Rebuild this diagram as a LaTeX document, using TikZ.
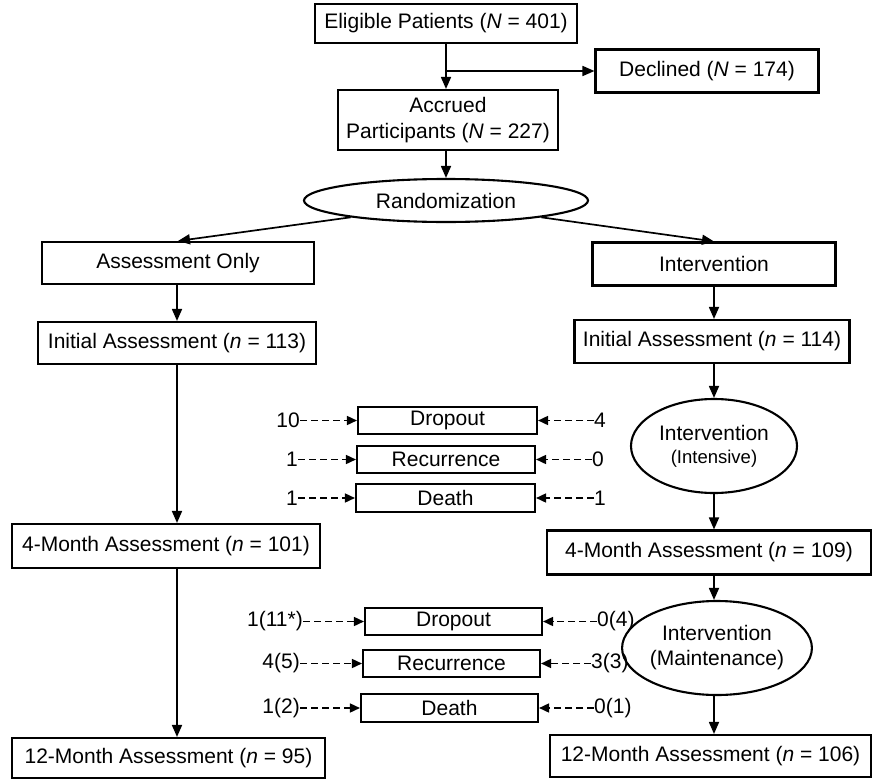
\documentclass[tikz,border=0pt]{standalone}
\usepackage{fontspec}
\setmainfont{Liberation Sans}
\usetikzlibrary{arrows.meta,shapes.geometric}
\begin{document}
\begin{tikzpicture}[x=1pt,y=-1pt,
  box/.style={draw,line width=2.1pt,inner sep=0pt,align=center,font=\fontsize{21}{26}\selectfont},
  oval/.style={draw,ellipse,line width=2.1pt,inner sep=0pt,align=center,font=\fontsize{21}{25}\selectfont},
  arr/.style={line width=1.7pt,-{Triangle[length=12pt,width=10pt]}},
  darr/.style={line width=1.6pt,dash pattern=on 7pt off 4pt,-{Triangle[length=10pt,width=9pt]}},
  lbl/.style={inner sep=0pt,font=\fontsize{21}{25}\selectfont}]
\useasboundingbox (0,0) rectangle (873,779);

% top
\node[box,minimum width=262pt,minimum height=39pt] (elig) at (446,23.5) {Eligible Patients (\textit{N} = 401)};
\node[box,minimum width=223pt,minimum height=43pt] (decl) at (707,71) {Declined (\textit{N} = 174)};
\node[box,minimum width=220pt,minimum height=60pt] (accr) at (448,120) {Accrued\\Participants (\textit{N} = 227)};
\node[oval,minimum width=284pt,minimum height=43pt] (rand) at (446,200.5) {Randomization};

% arms
\node[box,minimum width=272pt,minimum height=42pt] (asmt) at (178,263) {Assessment Only};
\node[box,minimum width=243pt,minimum height=43pt] (intv) at (714,264) {Intervention};
\node[box,minimum width=278pt,minimum height=42pt] (inita) at (177,343) {Initial Assessment (\textit{n} = 113)};
\node[box,minimum width=275pt,minimum height=43pt] (initb) at (712,341.5) {Initial Assessment (\textit{n} = 114)};
\node[oval,minimum width=166pt,minimum height=94pt] (intens) at (714,446) {Intervention\\[-2pt]{\fontsize{18.5}{20}\selectfont(Intensive)}};
\node[box,minimum width=308pt,minimum height=44pt] (mfa) at (166,546) {4-Month Assessment (\textit{n} = 101)};
\node[box,minimum width=324pt,minimum height=44pt] (mfb) at (709,552.5) {4-Month Assessment (\textit{n} = 109)};
\node[oval,minimum width=164pt,minimum height=94pt] (maint) at (717,648) {Intervention\\(Maintenance)};
\node[box,minimum width=313pt,minimum height=40pt] (mta) at (168.5,758) {12-Month Assessment (\textit{n} = 95)};
\node[box,minimum width=321pt,minimum height=42pt] (mtb) at (710.5,756) {12-Month Assessment (\textit{n} = 106)};

% loss boxes, first period
\node[box,minimum width=179pt,minimum height=27pt] (dropa) at (447.5,420.5) {Dropout};
\node[box,minimum width=178pt,minimum height=27pt] (reca) at (446,459.5) {Recurrence};
\node[box,minimum width=179pt,minimum height=28pt] (deatha) at (445.5,498) {Death};
% loss boxes, second period
\node[box,minimum width=177pt,minimum height=27pt] (dropb) at (453.5,621.5) {Dropout};
\node[box,minimum width=177pt,minimum height=27pt] (recb) at (451.5,663.5) {Recurrence};
\node[box,minimum width=177pt,minimum height=28pt] (deathb) at (449.5,708) {Death};

% count labels
\node[lbl,anchor=east] (la1) at (300,420.5) {10};
\node[lbl,anchor=east] (la2) at (298,459.5) {1};
\node[lbl,anchor=east] (la3) at (298,498) {1};
\node[lbl,anchor=west] (ra1) at (594,420.5) {4};
\node[lbl,anchor=west] (ra2) at (592,459.5) {0};
\node[lbl,anchor=west] (ra3) at (594,498) {1};
\node[lbl,anchor=east] (lb1) at (303,621.5) {1(11*)};
\node[lbl,anchor=east] (lb2) at (300,663.5) {4(5)};
\node[lbl,anchor=east] (lb3) at (300,708) {1(2)};
\node[lbl,anchor=west] (rb1) at (597,621.5) {0(4)};
\node[lbl,anchor=west] (rb2) at (591,663.5) {3(3)};
\node[lbl,anchor=west] (rb3) at (594,708) {0(1)};

% connectors top
\coordinate (br) at (elig.south |- decl.west);
\draw[arr] (elig.south) -- (elig.south |- accr.north);
\draw[arr] (br) -- (decl.west);
\draw[arr] (accr.south -| elig.south) -- (elig.south |- rand.north);
\draw[arr] (rand.190) -- (asmt.north);
\draw[arr] (rand.350) -- (intv.north);

% left column
\draw[arr] (asmt.south -| inita.north) -- (inita.north);
\draw[arr] (inita.south) -- (inita.south |- mfa.north);
\draw[arr] (inita.south |- mfa.south) -- (inita.south |- mta.north);

% right column
\draw[arr] (intens.north |- intv.south) -- (intens.north |- initb.north);
\draw[arr] (intens.north |- initb.south) -- (intens.north);
\draw[arr] (intens.south) -- (intens.south |- mfb.north);
\draw[arr] (intens.south |- mfb.south) -- (intens.south |- maint.north);
\draw[arr] (intens.south |- maint.south) -- (intens.south |- mtb.north);

% dashed loss arrows
\draw[darr] (la1) -- (dropa);
\draw[darr] (la2) -- (reca);
\draw[darr] (la3) -- (deatha);
\draw[darr] (ra1) -- (dropa);
\draw[darr] (ra2) -- (reca);
\draw[darr] (ra3) -- (deatha);
\draw[darr] (lb1) -- (dropb);
\draw[darr] (lb2) -- (recb);
\draw[darr] (lb3) -- (deathb);
\draw[darr] (rb1) -- (dropb);
\draw[darr] (rb2) -- (recb);
\draw[darr] (rb3) -- (deathb);
\end{tikzpicture}
\end{document}
